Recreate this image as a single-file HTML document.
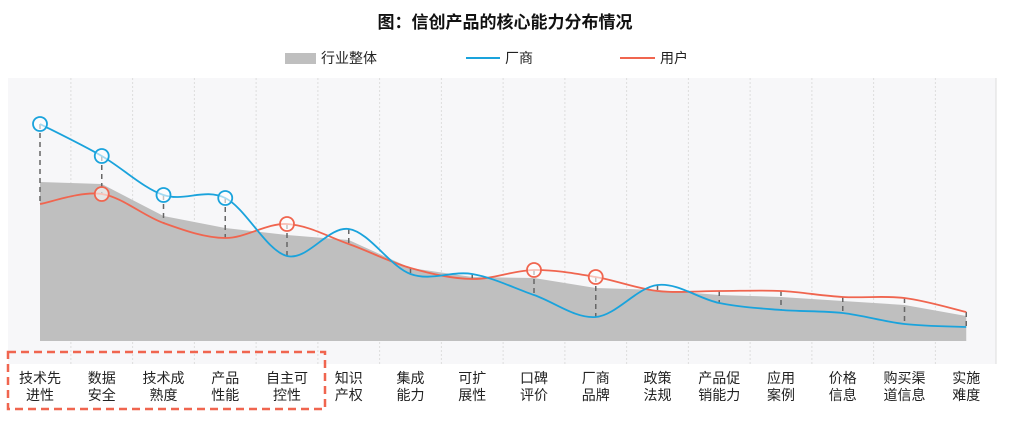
<!DOCTYPE html>
<html><head><meta charset="utf-8"><style>
body{margin:0;background:#fff;width:1010px;height:425px;overflow:hidden;font-family:"Liberation Sans","Noto Sans CJK SC",sans-serif}
</style></head><body>
<svg id="s" width="1010" height="425" xmlns="http://www.w3.org/2000/svg" font-family="Liberation Sans, Noto Sans CJK SC, sans-serif">
<rect x="8" y="78" width="988" height="286" fill="#f7f7f9"/>
<line x1="996" y1="78" x2="996" y2="364" stroke="#ddd"/>
<text x="505" y="28" text-anchor="middle" font-size="17" font-weight="bold" fill="#111">图：信创产品的核心能力分布情况</text>
<rect x="285" y="53" width="31" height="11" fill="#bfbfbf"/>
<text x="321" y="63" font-size="14" fill="#222">行业整体</text>
<line x1="466" y1="58" x2="500" y2="58" stroke="#1aa3dc" stroke-width="2"/>
<text x="505" y="63" font-size="14" fill="#222">厂商</text>
<line x1="620" y1="58" x2="655" y2="58" stroke="#f0654f" stroke-width="2"/>
<text x="660" y="63" font-size="14" fill="#222">用户</text>
<g id="g"></g>
<rect x="8" y="352" width="317" height="57" fill="none" stroke="#f0654f" stroke-width="2.5" stroke-dasharray="8,5"/>
</svg>
<script>
var X=[],i;for(i=0;i<16;i++)X.push(40+i*61.75);
var A=[182,184,216,228,235,240,268,277,278,288,290,295,297,301,305,316];
var B=[124,156,195,198,256,229,274,274,295,317,285,303,310,313,324,327];
var R=[204,194,223,238,224,244,268,279,270,277,291,291,291,297,298,312];
var L=[["技术先","进性"],["数据","安全"],["技术成","熟度"],["产品","性能"],["自主可","控性"],["知识","产权"],["集成","能力"],["可扩","展性"],["口碑","评价"],["厂商","品牌"],["政策","法规"],["产品促","销能力"],["应用","案例"],["价格","信息"],["购买渠","道信息"],["实施","难度"]];
function sm(Y){var d="M"+X[0]+","+Y[0];for(var k=0;k<15;k++){var p0=k?k-1:k,p3=k<14?k+2:k+1;
var c1x=X[k]+(X[k+1]-X[p0])/6,c1y=Y[k]+(Y[k+1]-Y[p0])/6,c2x=X[k+1]-(X[p3]-X[k])/6,c2y=Y[k+1]-(Y[p3]-Y[k])/6;
d+=" C"+c1x+","+c1y+" "+c2x+","+c2y+" "+X[k+1]+","+Y[k+1];}return d;}
var h="";
for(i=0;i<15;i++){var gx=(X[i]+X[i+1])/2;h+='<line x1="'+gx+'" y1="78" x2="'+gx+'" y2="364" stroke="#ddd" stroke-dasharray="2,2"/>';}
var ad="M"+X[0]+",341";for(i=0;i<16;i++)ad+=" L"+X[i]+","+A[i];ad+=" L"+X[15]+",341Z";
h+='<path d="'+ad+'" fill="#bfbfbf"/>';
for(i=0;i<16;i++){var t=Math.min(A[i],B[i],R[i]),b=Math.max(A[i],B[i],R[i]);h+='<line x1="'+X[i]+'" y1="'+t+'" x2="'+X[i]+'" y2="'+b+'" stroke="#666" stroke-width="1.5" stroke-dasharray="5,4"/>';}
h+='<path d="'+sm(R)+'" fill="none" stroke="#f0654f" stroke-width="1.8"/>';
h+='<path d="'+sm(B)+'" fill="none" stroke="#1aa3dc" stroke-width="1.8"/>';
[0,1,2,3].forEach(function(k){h+='<circle cx="'+X[k]+'" cy="'+B[k]+'" r="7" fill="#fff" fill-opacity="0.6" stroke="#1aa3dc" stroke-width="1.8"/>';});
[1,4,8,9].forEach(function(k){h+='<circle cx="'+X[k]+'" cy="'+R[k]+'" r="7" fill="#fff" fill-opacity="0.6" stroke="#f0654f" stroke-width="1.8"/>';});
for(i=0;i<16;i++){h+='<text x="'+X[i]+'" y="383" text-anchor="middle" font-size="14" fill="#222">'+L[i][0]+'</text><text x="'+X[i]+'" y="400" text-anchor="middle" font-size="14" fill="#222">'+L[i][1]+'</text>';}
document.getElementById("g").innerHTML=h;
</script>
</body></html>
